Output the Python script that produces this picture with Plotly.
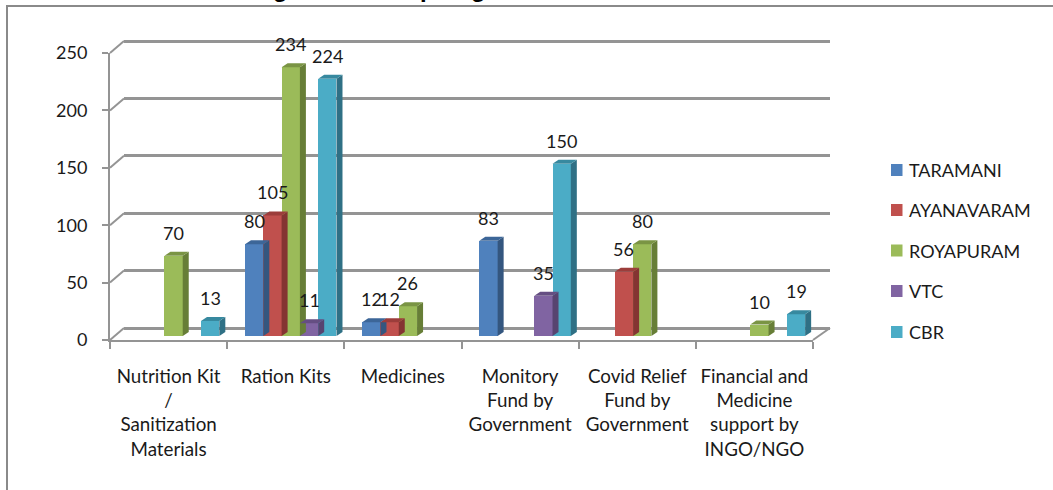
import plotly.graph_objects as go

W, H = 1053, 490
categories = ["Nutrition Kit<br>/<br>Sanitization<br>Materials", "Ration Kits", "Medicines",
              "Monitory<br>Fund by<br>Government", "Covid Relief<br>Fund by<br>Government",
              "Financial and<br>Medicine<br>support by<br>INGO/NGO"]
series_names = ["TARAMANI", "AYANAVARAM", "ROYAPURAM", "VTC", "CBR"]
taramani = [None, 80, 12, 83, None, None]
ayanavaram = [None, 105, 12, None, 56, None]
royapuram = [70, 234, 26, None, 80, 10]
vtc = [None, 11, None, 35, None, None]
cbr = [13, 224, None, 150, None, 19]
series_values = [taramani, ayanavaram, royapuram, vtc, cbr]
y_ticks = [0, 50, 100, 150, 200, 250]

front = ["#4F81BD", "#C0504D", "#9BBB59", "#8064A2", "#4BACC6"]
side = ["#34567F", "#843432", "#677E37", "#574470", "#2F7085"]
top = ["#3C6698", "#9C3D3B", "#7A9444", "#654E82", "#37899F"]
GRAY = "#949494"
FONT = "Lato"
TXT = "#1a1a1a"
FS = 18

def px(x): return x / W
def py(y): return 1 - y / H

fig = go.Figure()
idx = list(range(len(categories)))
# back wall (grid) subplot
fig.add_trace(go.Scatter(x=idx, y=[0] * 6, mode="none", showlegend=False, hoverinfo="skip", xaxis="x", yaxis="y"))
# front axes subplot
fig.add_trace(go.Scatter(x=categories, y=[0] * 6, mode="none", showlegend=False, hoverinfo="skip", xaxis="x2", yaxis="y2"))

bar_w = 18.3 / 117.2
dx = 6.0 / 117.2
dy = 4.0 / 1.148
annotations = []
for j, (name, vals) in enumerate(zip(series_names, series_values)):
    fig.add_trace(go.Bar(x=idx, y=vals, name=name, marker=dict(color=front[j], line=dict(width=0)),
                         width=bar_w, offset=(j - 2.5) * bar_w, showlegend=False, xaxis="x3", yaxis="y3"))
    for i, v in zip(idx, vals):
        if v is None:
            continue
        x0 = i + (j - 2.5) * bar_w
        x1 = x0 + bar_w
        fig.add_trace(go.Scatter(x=[x1, x1 + dx, x1 + dx, x1, x1], y=[0, dy, v + dy, v, 0], fill="toself",
                                 fillcolor=side[j], mode="none", showlegend=False, hoverinfo="skip",
                                 xaxis="x3", yaxis="y3"))
        fig.add_trace(go.Scatter(x=[x0, x0 + dx, x1 + dx, x1, x0], y=[v, v + dy, v + dy, v, v], fill="toself",
                                 fillcolor=top[j], mode="none", showlegend=False, hoverinfo="skip",
                                 xaxis="x3", yaxis="y3"))
        annotations.append(dict(x=(x0 + x1) / 2, y=v, xref="x3", yref="y3", text=str(v), showarrow=False,
                                yanchor="middle", yshift=23, font=dict(family=FONT, size=FS, color=TXT)))

shapes = [dict(type="rect", xref="paper", yref="paper", x0=px(7), x1=1.02, y0=-0.02, y1=py(6),
               line=dict(color="#8a8a8a", width=2), layer="below")]
Y0, YSTEP = 340, 287 / 250
for t in y_ticks:
    yy = Y0 - t * YSTEP
    shapes.append(dict(type="line", xref="paper", yref="paper", x0=px(110), x1=px(124), y0=py(yy), y1=py(yy - 12),
                       line=dict(color=GRAY, width=2), layer="below"))
shapes.append(dict(type="line", xref="paper", yref="paper", x0=px(813), x1=px(830), y0=py(340), y1=py(328),
                   line=dict(color=GRAY, width=2), layer="below"))

legend_y = [170, 210, 250.5, 291, 332]
for name, col, ly in zip(series_names, front, legend_y):
    shapes.append(dict(type="rect", xref="paper", yref="paper", x0=px(891), x1=px(902.5), y0=py(ly - 6), y1=py(ly + 6),
                       line=dict(width=0), fillcolor=col))
    annotations.append(dict(x=px(907), y=py(ly), xref="paper", yref="paper", text=name, showarrow=False,
                            xanchor="left", yanchor="middle", font=dict(family=FONT, size=FS, color=TXT)))

# only the descenders of the clipped title remain visible at the top edge
for ch, cx in zip(["g", "p", "g"], [280, 427, 478]):
    annotations.append(dict(x=px(cx), y=py(4), xref="paper", yref="paper", text="<b>" + ch + "</b>", showarrow=False,
                            xanchor="center", yanchor="bottom",
                            font=dict(family="Liberation Sans", size=24, color="#000000")))

hidden = dict(visible=False, fixedrange=True)
GRID_PAD = 10  # value units kept beyond the first and last gridline, so that both are drawn
fig.update_layout(
    width=W, height=H, autosize=False, margin=dict(l=0, r=0, t=0, b=0, pad=0, autoexpand=False),
    paper_bgcolor="white", plot_bgcolor="rgba(0,0,0,0)", showlegend=False, bargap=0,
    barmode="overlay", shapes=shapes, annotations=annotations,
    xaxis=dict(domain=[px(124), px(830)], range=[0, 1], showticklabels=False, showgrid=False, zeroline=False,
               ticks="", showline=False, anchor="y"),
    yaxis=dict(domain=[py(328 + GRID_PAD * YSTEP), py(41 - GRID_PAD * YSTEP)], range=[-GRID_PAD, 250 + GRID_PAD],
               tickvals=y_ticks, showticklabels=False, showgrid=True,
               gridcolor=GRAY, gridwidth=2.5, zeroline=True, zerolinecolor=GRAY, zerolinewidth=2.5,
               ticks="", anchor="x"),
    xaxis2=dict(domain=[px(110), px(813)], type="category", range=[-0.5, 5.5], tickson="boundaries", ticks="outside",
                ticklen=7, tickcolor=GRAY, tickwidth=2, showline=True, linecolor=GRAY, linewidth=2, showgrid=False,
                ticklabelstandoff=18,
                tickfont=dict(family=FONT, size=18.8, color=TXT), anchor="y2", tickangle=0),
    yaxis2=dict(domain=[py(340), py(53)], range=[0, 250], tickvals=y_ticks, ticks="outside", ticklen=6,
                tickcolor=GRAY, tickwidth=2, showline=True, linecolor=GRAY, linewidth=2, showgrid=False,
                ticklabelstandoff=11,
                zeroline=False, tickfont=dict(family=FONT, size=FS, color=TXT), anchor="x2"),
    xaxis3=dict(domain=[px(115), px(818)], range=[-0.5, 5.5], anchor="y3", **hidden),
    yaxis3=dict(domain=[py(336), py(49)], range=[0, 250], anchor="x3", **hidden),
)
fig.write_html("out.html", config=dict(displayModeBar=False),
               post_script="document.body.style.margin='0';document.body.style.overflow='hidden';")
